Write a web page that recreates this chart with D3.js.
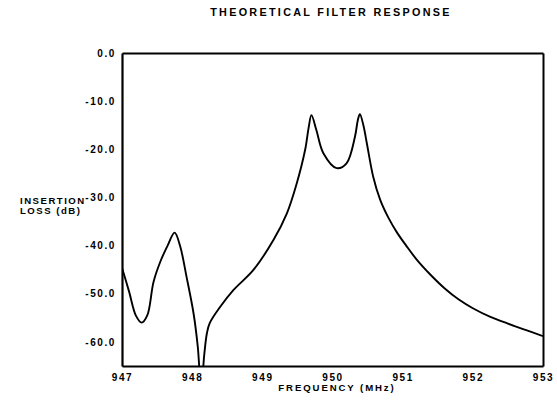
<!DOCTYPE html>
<html>
<head>
<meta charset="utf-8">
<script src="https://cdn.jsdelivr.net/npm/d3@7"></script>
<style>
  html, body { margin: 0; padding: 0; background: #fff; }
  svg { display: block; }
  text { font-family: "Liberation Sans", Arial, Helvetica, sans-serif; font-weight: bold; fill: #000; }
</style>
</head>
<body>
<svg id="chart" width="557" height="400"></svg>
<script>
// ---- data ----
const freqMHz = [947.00, 947.10, 947.20, 947.28, 947.36, 947.45, 947.55, 947.65, 947.75, 947.83,
  947.92, 948.02, 948.08, 948.13, 948.17, 948.21, 948.25, 948.40, 948.59, 948.87,
  949.16, 949.35, 949.49, 949.61, 949.66, 949.70, 949.77, 949.87, 950.06, 950.20,
  950.32, 950.36, 950.39, 950.44, 950.49, 950.58, 950.68, 950.80, 950.92, 951.05,
  951.20, 951.40, 951.60, 951.80, 952.00, 952.25, 952.50, 952.75, 953.00];
const lossDb = [-44.6, -49.5, -54.6, -56.0, -54.5, -47.5, -43.2, -40.0, -37.3, -40.2,
  -46.5, -54.1, -61.0, -70.0, -63.0, -58.2, -56.1, -52.7, -49.2, -45.1,
  -38.8, -33.3, -27.1, -20.1, -15.5, -12.9, -16.0, -20.8, -23.9, -22.9,
  -17.4, -14.0, -12.7, -15.0, -18.8, -25.7, -30.5, -34.3, -37.3, -40.0,
  -42.9, -46.1, -48.9, -51.2, -53.0, -54.8, -56.2, -57.5, -58.8];
const xTicks = [947, 948, 949, 950, 951, 952, 953];
const yTicks = [0, -10, -20, -30, -40, -50, -60];
const titleText = "THEORETICAL FILTER RESPONSE";
const xLabel = "FREQUENCY (MHz)";
const yLabelLines = ["INSERTION", "LOSS (dB)"];

// ---- layout ----
const W = 557, H = 400;
const margin = { left: 122, right: 14, top: 53, bottom: 34 };
const svg = d3.select("#chart");
const x = d3.scaleLinear().domain([947, 953]).range([margin.left, W - margin.right]);
const y = d3.scaleLinear().domain([-65, 0]).range([H - margin.bottom, margin.top]);

svg.append("defs").append("clipPath").attr("id", "plotclip")
  .append("rect")
  .attr("x", x(947)).attr("y", y(0))
  .attr("width", x(953) - x(947)).attr("height", y(-65) - y(0));

// curve
const pts = freqMHz.map((f, i) => [f, lossDb[i]]);
const line = d3.line().x(d => x(d[0])).y(d => y(d[1])).curve(d3.curveCatmullRom.alpha(0.5));
svg.append("path")
  .attr("d", line(pts))
  .attr("clip-path", "url(#plotclip)")
  .attr("fill", "none").attr("stroke", "#000").attr("stroke-width", 1.9)
  .attr("stroke-linejoin", "round");

// axes (no tick marks)
const xAxis = d3.axisBottom(x).tickValues(xTicks).tickSize(0).tickPadding(6).tickFormat(d3.format("d"));
const yAxis = d3.axisLeft(y).tickValues(yTicks).tickSize(0).tickPadding(6).tickFormat(d => d3.format(".1f")(d).replace("−", "-"));

const gx = svg.append("g").attr("transform", `translate(0,${y(-65)})`).call(xAxis);
const gy = svg.append("g").attr("transform", `translate(${x(947)},0)`).call(yAxis);
[gx, gy].forEach(g => {
  g.select(".domain").attr("stroke", "#000").attr("stroke-width", 2.2);
  g.selectAll("text").attr("font-size", 10).style("letter-spacing", "1.6px")
    .style("font-family", '"Liberation Sans", Arial, sans-serif').style("font-weight", "bold");
});
gx.selectAll("text").attr("dy", "0.9em");

// top and right frame lines
const topAxis = d3.axisTop(x).tickValues([]).tickSize(0);
const rightAxis = d3.axisRight(y).tickValues([]).tickSize(0);
svg.append("g").attr("transform", `translate(0,${y(0)})`).call(topAxis)
  .select(".domain").attr("stroke", "#000").attr("stroke-width", 1.8);
svg.append("g").attr("transform", `translate(${x(953)},0)`).call(rightAxis)
  .select(".domain").attr("stroke", "#000").attr("stroke-width", 2);

// title
svg.append("text").attr("x", 331).attr("y", 16).attr("text-anchor", "middle")
  .attr("font-size", 10.8).style("letter-spacing", "2.3px").text(titleText);

// x label
svg.append("text").attr("x", 337).attr("y", 391).attr("text-anchor", "middle")
  .attr("font-size", 9.6).style("letter-spacing", "1.9px").text(xLabel);

// y label
const yl = svg.append("text").attr("x", 20).attr("y", 204).attr("font-size", 9.6).style("letter-spacing", "1.5px");
yLabelLines.forEach((t, i) => yl.append("tspan").attr("x", 20).attr("dy", i === 0 ? 0 : "1.05em").text(t));
</script>
</body>
</html>
